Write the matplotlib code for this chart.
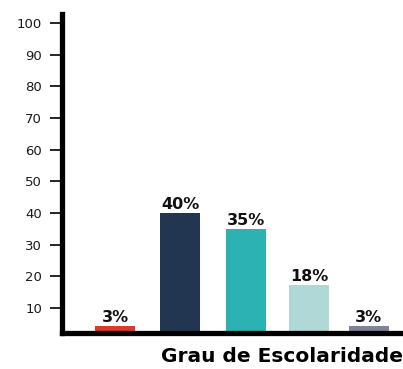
import matplotlib
matplotlib.use("Agg")
import matplotlib.pyplot as plt

# data
categories = ["A", "B", "C", "D", "E"]
heights = [4.3, 40, 35, 17.3, 4.3]
labels = ["3%", "40%", "35%", "18%", "3%"]
colors = ["#d93a2b", "#223651", "#2db2b4", "#b0d8d7", "#7f8498"]
xpos = [0.0, 1.0, 2.02, 2.99, 3.9]
yticks = [10, 20, 30, 40, 50, 60, 70, 80, 90, 100]

fig = plt.figure(figsize=(4.03, 3.69), dpi=100)
ax = fig.add_axes([61.5 / 403, 36 / 369, 1.02 - 61.5 / 403, (333 - 14) / 369])

ax.bar(xpos, heights, width=0.615, color=colors, bottom=0, zorder=1)
for x, h, t in zip(xpos, heights, labels):
    ax.text(x, h + 0.4, t, ha="center", va="bottom", fontsize=11.5,
            fontweight="bold", color="#111111")

ax.set_xlim(-0.823, 4.43 + 0.02 * 403 / 65)
ax.set_ylim(2.1, 102.8)
ax.set_yticks(yticks)
ax.set_xticks([])
for s in ["top", "right"]:
    ax.spines[s].set_visible(False)
for s in ["left", "bottom"]:
    ax.spines[s].set_linewidth(3.8)
    ax.spines[s].set_zorder(3)
ax.tick_params(axis="y", length=9, width=1.2, pad=5, labelsize=9.5,
               labelcolor="#1a1a1a")

fig.text(161 / 403, 1 - 357 / 369, "Grau de Escolaridade", ha="left",
         va="center", fontsize=14.5, fontweight="bold")

fig.savefig("out.png", dpi=100)
